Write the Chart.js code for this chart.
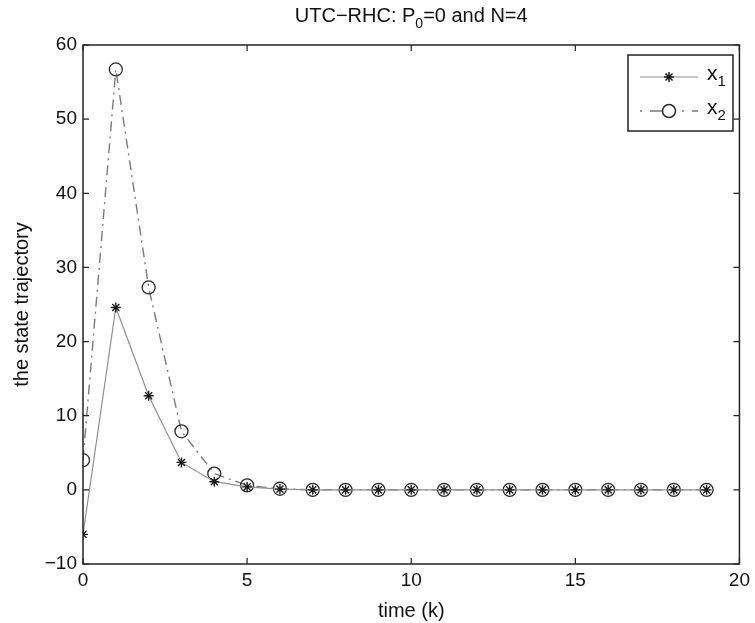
<!DOCTYPE html>
<html>
<head>
<meta charset="utf-8">
<script src="https://cdn.jsdelivr.net/npm/chart.js@4/dist/chart.umd.min.js"></script>
<style>
  html, body { margin: 0; padding: 0; background: #fff; }
  #wrap { width: 755px; height: 623px; }
</style>
</head>
<body>
<div id="wrap"><canvas id="myChart" width="755" height="623"></canvas></div>
<script>
// time steps and the two state trajectories
var steps = [0, 1, 2, 3, 4, 5, 6, 7, 8, 9, 10, 11, 12, 13, 14, 15, 16, 17, 18, 19]
var x1 = [-6.0, 24.6, 12.7, 3.7, 1.1, 0.4, 0.1, 0, 0, 0, 0, 0, 0, 0, 0, 0, 0, 0, 0, 0]
var x2 = [4.0, 56.7, 27.3, 7.9, 2.2, 0.6, 0.15, 0, 0, 0, 0, 0, 0, 0, 0, 0, 0, 0, 0, 0]
var xTicks = [0, 5, 10, 15, 20]
var yTicks = [-10, 0, 10, 20, 30, 40, 50, 60]

var FONT = "'Liberation Sans', Arial, Helvetica, sans-serif"

function pairs(ys) {
  return steps.map(function (k, i) { return { x: k, y: ys[i] } })
}

// draws "base" followed by a lowered, smaller "sub"; returns the end x
function subText(ctx, base, sub, x, y, size) {
  ctx.font = size + 'px ' + FONT
  ctx.fillText(base, x, y)
  x += ctx.measureText(base).width
  ctx.font = Math.round(size * 0.7) + 'px ' + FONT
  ctx.fillText(sub, x, y + size * 0.3)
  return x + ctx.measureText(sub).width
}

// box around the plot with inward ticks on all four sides, title and legend
var frame = {
  id: 'frame',
  afterDraw: function (chart) {
    var ctx = chart.ctx
    var a = chart.chartArea
    var xs = chart.scales.x, ys = chart.scales.y
    ctx.save()
    ctx.strokeStyle = '#222'
    ctx.lineWidth = 1.5
    ctx.strokeRect(a.left, a.top, a.right - a.left, a.bottom - a.top)
    ctx.lineWidth = 1.2
    ctx.beginPath()
    xTicks.forEach(function (v) {
      var px = xs.getPixelForValue(v)
      ctx.moveTo(px, a.bottom); ctx.lineTo(px, a.bottom - 6)
      ctx.moveTo(px, a.top); ctx.lineTo(px, a.top + 6)
    })
    yTicks.forEach(function (v) {
      var py = ys.getPixelForValue(v)
      ctx.moveTo(a.left, py); ctx.lineTo(a.left + 6, py)
      ctx.moveTo(a.right, py); ctx.lineTo(a.right - 6, py)
    })
    ctx.stroke()

    // title
    ctx.fillStyle = '#111'
    ctx.textBaseline = 'alphabetic'
    ctx.textAlign = 'left'
    var size = 20
    ctx.font = size + 'px ' + FONT
    var w1 = ctx.measureText('UTC\u2212RHC: P').width
    var w3 = ctx.measureText('=0 and N=4').width
    ctx.font = Math.round(size * 0.7) + 'px ' + FONT
    var w2 = ctx.measureText('0').width
    var tx = (a.left + a.right) / 2 - (w1 + w2 + w3) / 2
    tx = subText(ctx, 'UTC\u2212RHC: P', '0', tx, 22, size)
    ctx.font = size + 'px ' + FONT
    ctx.fillText('=0 and N=4', tx, 22)

    // legend box
    var lx = 628, ly = 55, lw = 105, lh = 76
    ctx.fillStyle = '#fff'
    ctx.fillRect(lx, ly, lw, lh)
    ctx.strokeStyle = '#222'
    ctx.lineWidth = 1.5
    ctx.strokeRect(lx, ly, lw, lh)
    chart.data.datasets.forEach(function (ds, i) {
      var cy = ly + 22 + i * 34
      ctx.save()
      ctx.strokeStyle = ds.borderColor
      ctx.lineWidth = ds.borderWidth
      ctx.setLineDash(ds.legendDash || [])
      ctx.beginPath(); ctx.moveTo(lx + 12, cy); ctx.lineTo(lx + 70, cy); ctx.stroke()
      ctx.restore()
      ctx.save()
      ctx.strokeStyle = ds.pointBorderColor
      ctx.fillStyle = ds.pointBackgroundColor
      ctx.setLineDash([])
      Chart.helpers.drawPoint(ctx, {
        pointStyle: ds.pointStyle, radius: ds.pointRadius, borderWidth: ds.pointBorderWidth, rotation: 0
      }, lx + 41, cy)
      ctx.restore()
      ctx.fillStyle = '#111'
      subText(ctx, 'x', String(i + 1), lx + 79, cy + 3, 21)
    })
    ctx.restore()
  }
}

var tickFont = { family: FONT, size: 19 }
var titleFont = { family: FONT, size: 20 }

var ctx = document.getElementById('myChart').getContext('2d')
var chart = new Chart(ctx, {
  type: 'line',
  data: {
    datasets: [{
      label: 'x1',
      data: pairs(x1),
      borderColor: '#909090',
      borderWidth: 1.2,
      pointStyle: 'star',
      pointRadius: 5,
      pointBorderWidth: 1.4,
      pointBorderColor: '#1a1a1a',
      pointBackgroundColor: '#1a1a1a',
      legendDash: [],
      tension: 0
    }, {
      label: 'x2',
      data: pairs(x2),
      borderColor: '#7a7a7a',
      borderWidth: 1.4,
      borderDash: [10, 5, 2, 5],
      legendDash: [2, 8, 12, 20],
      pointStyle: 'circle',
      pointRadius: 6.5,
      pointBorderWidth: 1.3,
      pointBorderColor: '#2a2a2a',
      pointBackgroundColor: 'rgba(0,0,0,0)',
      tension: 0
    }]
  },
  options: {
    responsive: false,
    animation: false,
    devicePixelRatio: 1,
    layout: { padding: { top: 45, right: 12, left: 0, bottom: 0 } },
    plugins: {
      legend: { display: false },
      tooltip: { enabled: false }
    },
    scales: {
      x: {
        type: 'linear',
        min: 0, max: 20,
        afterBuildTicks: function (s) { s.ticks = xTicks.map(function (v) { return { value: v } }) },
        afterFit: function (s) { s.height = 59 },
        grid: { display: false, drawTicks: false, tickLength: 0 },
        border: { display: false },
        ticks: { color: '#111', font: tickFont, padding: 5, maxRotation: 0 },
        title: { display: true, text: 'time (k)', color: '#111', font: titleFont, padding: { top: 0, bottom: 0 } }
      },
      y: {
        type: 'linear',
        min: -10, max: 60,
        afterBuildTicks: function (s) { s.ticks = yTicks.map(function (v) { return { value: v } }) },
        afterFit: function (s) { s.width = 83 },
        grid: { display: false, drawTicks: false, tickLength: 0 },
        border: { display: false },
        ticks: {
          color: '#111', font: tickFont, padding: 6,
          callback: function (v) { return v < 0 ? '\u2212' + Math.abs(v) : String(v) }
        },
        title: { display: true, text: 'the state trajectory', color: '#111', font: titleFont, padding: { top: 10, bottom: 0 } }
      }
    }
  },
  plugins: [frame]
})
</script>
</body>
</html>
